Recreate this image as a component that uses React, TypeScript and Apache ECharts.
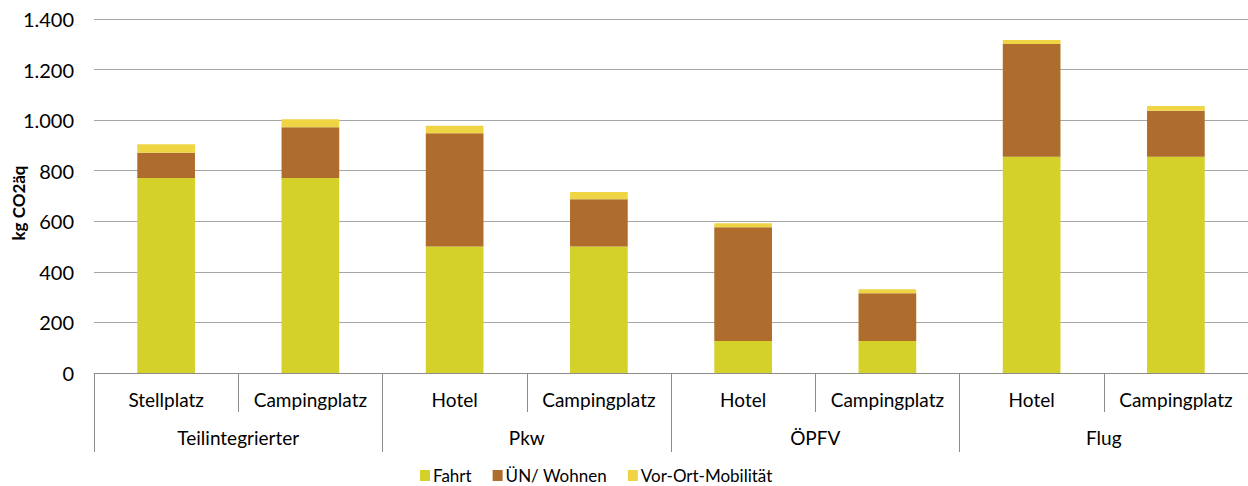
import React, { useEffect, useRef } from "react";
import * as echarts from "echarts";

const subCategories = ["Stellplatz", "Campingplatz", "Hotel", "Campingplatz", "Hotel", "Campingplatz", "Hotel", "Campingplatz"];
const groups = ["Teilintegrierter", "Pkw", "ÖPFV", "Flug"];
const fahrt = [771, 771, 500, 500, 127, 127, 855, 855];
const wohnen = [100, 201, 448, 187, 449, 188, 446, 182];
const vorOrt = [34, 32, 30, 29, 16, 16, 16, 19];
const yTicks = [0, 200, 400, 600, 800, 1000, 1200, 1400];
const yAxisTitle = "kg CO2äq";

const FONT = "Lato";

function fmt(v: number): string {
  const s = String(Math.round(v));
  return s.replace(/\B(?=(\d{3})+(?!\d))/g, ".");
}

export default function App() {
  const ref = useRef<HTMLDivElement>(null);
  useEffect(() => {
    if (!ref.current) return;
    const chart = echarts.init(ref.current, null, { renderer: "svg" });
    const catText = { fontFamily: FONT, fontSize: 19, color: "#000" };
    chart.setOption({
      animation: false,
      textStyle: { fontFamily: FONT },
      grid: { left: 94, right: 0, top: 19, bottom: 113, containLabel: false, outerBoundsMode: "none" },
      graphic: [
        {
          type: "text",
          x: 18,
          y: 203,
          rotation: Math.PI / 2,
          style: {
            text: yAxisTitle,
            fontFamily: FONT,
            fontSize: 17,
            fontWeight: "bold",
            fill: "#000",
            align: "center",
            verticalAlign: "middle",
          },
        },
      ],
      legend: {
        left: 420,
        top: 467,
        padding: 0,
        itemWidth: 10,
        itemHeight: 11,
        itemGap: 21,
        icon: "rect",
        textStyle: { fontFamily: FONT, fontSize: 17, color: "#000", lineHeight: 16, padding: [0, 0, 0, -2] },
        data: ["Fahrt", "ÜN/ Wohnen", "Vor-Ort-Mobilität"],
      },
      xAxis: [
        {
          type: "category",
          data: subCategories,
          position: "bottom",
          axisLine: { show: true, lineStyle: { color: "#8c8c8c", width: 1 } },
          axisTick: { show: true, interval: 0, length: 39, alignWithLabel: false, lineStyle: { color: "#8c8c8c" } },
          axisLabel: { ...catText, interval: 0, margin: 17 },
          splitLine: { show: false },
        },
        {
          type: "category",
          data: groups,
          position: "bottom",
          offset: 39,
          axisLine: { show: false },
          axisTick: { show: true, interval: 0, length: 40, alignWithLabel: false, lineStyle: { color: "#8c8c8c" } },
          axisLabel: { ...catText, interval: 0, margin: 16 },
          splitLine: { show: false },
        },
      ],
      yAxis: {
        type: "value",
        min: yTicks[0],
        max: yTicks[yTicks.length - 1],
        interval: 200,
        axisLine: { show: false },
        axisTick: { show: false },
        axisLabel: { fontFamily: FONT, fontSize: 20, color: "#000", margin: 20, formatter: (v: number) => fmt(v) },
        splitLine: { show: true, lineStyle: { color: "#a6a6a6", width: 1 } },
      },
      series: [
        { name: "Fahrt", type: "bar", stack: "s", data: fahrt, barWidth: "40%", itemStyle: { color: "#d4d22a" } },
        { name: "ÜN/ Wohnen", type: "bar", stack: "s", data: wohnen, barWidth: "40%", itemStyle: { color: "#af6d2d" } },
        { name: "Vor-Ort-Mobilität", type: "bar", stack: "s", data: vorOrt, barWidth: "40%", itemStyle: { color: "#efd444" } },
      ],
    });
    return () => chart.dispose();
  }, []);
  return <div ref={ref} style={{ width: 1248, height: 486, position: "absolute", left: 0, top: 0 }} />;
}
